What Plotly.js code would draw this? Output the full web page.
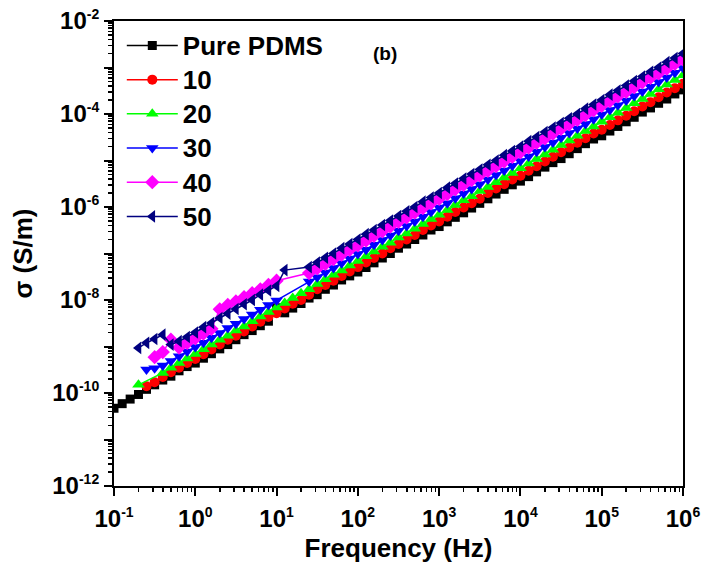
<!DOCTYPE html>
<html>
<head>
<meta charset="utf-8">
<script src="https://cdn.plot.ly/plotly-3.0.1.min.js"></script>
<style>
  html, body { margin: 0; padding: 0; background: #fff; }
  #chart { width: 702px; height: 565px; }
</style>
</head>
<body>
<div id="chart"></div>
<script>
// Frequency (Hz), ten points per decade
const freq = [
  0.1, 0.126, 0.158, 0.2, 0.251, 0.316, 0.398, 0.501, 0.631, 0.794,
  1, 1.26, 1.58, 2, 2.51, 3.16, 3.98, 5.01, 6.31, 7.94,
  10, 12.6, 15.8, 20, 25.1, 31.6, 39.8, 50.1, 63.1, 79.4,
  100, 126, 158, 200, 251, 316, 398, 501, 631, 794,
  1000, 1260, 1580, 2000, 2510, 3160, 3980, 5010, 6310, 7940,
  1e4, 1.26e4, 1.58e4, 2e4, 2.51e4, 3.16e4, 3.98e4, 5.01e4, 6.31e4, 7.94e4,
  1e5, 1.26e5, 1.58e5, 2e5, 2.51e5, 3.16e5, 3.98e5, 5.01e5, 6.31e5, 7.94e5,
  1e6
];

// Conductivity sigma (S/m)
const sigmaPure = [
  4.7e-11, 5.9e-11, 7.4e-11, 9.3e-11, 1.2e-10, 1.5e-10, 1.9e-10, 2.3e-10, 3.0e-10, 3.7e-10,
  4.4e-10, 5.6e-10, 7.0e-10, 8.9e-10, 1.1e-9, 1.4e-9, 1.8e-9, 2.2e-9, 2.8e-9, 3.5e-9,
  6.8e-9, 5.3e-9, 6.7e-9, 8.4e-9, 1.1e-8, 1.3e-8, 1.7e-8, 2.1e-8, 2.7e-8, 3.3e-8,
  4.0e-8, 5.0e-8, 6.3e-8, 8.0e-8, 1.0e-7, 1.3e-7, 1.6e-7, 2.0e-7, 2.5e-7, 3.2e-7,
  3.8e-7, 4.8e-7, 6.0e-7, 7.5e-7, 9.5e-7, 1.2e-6, 1.5e-6, 1.9e-6, 2.4e-6, 3.0e-6,
  3.6e-6, 4.5e-6, 5.7e-6, 7.2e-6, 9.0e-6, 1.1e-5, 1.4e-5, 1.8e-5, 2.3e-5, 2.9e-5,
  3.4e-5, 4.3e-5, 5.4e-5, 6.8e-5, 8.5e-5, 1.1e-4, 1.35e-4, 1.7e-4, 2.1e-4, 2.7e-4,
  3.3e-4
];
const sigma10 = [
  null, null, null, null, 1.4e-10, 1.7e-10, 2.2e-10, 2.8e-10, 3.5e-10, 4.4e-10,
  5.4e-10, 6.8e-10, 8.6e-10, 1.1e-9, 1.4e-9, 1.7e-9, 2.1e-9, 2.7e-9, 3.4e-9, 4.3e-9,
  5.2e-9, 6.6e-9, 8.3e-9, 1.0e-8, 1.3e-8, 1.7e-8, 2.1e-8, 2.6e-8, 3.3e-8, 4.1e-8,
  5.1e-8, 6.4e-8, 8.0e-8, 1.0e-7, 1.3e-7, 1.6e-7, 2.0e-7, 2.5e-7, 3.2e-7, 4.0e-7,
  4.9e-7, 6.2e-7, 7.8e-7, 9.8e-7, 1.2e-6, 1.5e-6, 2.0e-6, 2.5e-6, 3.1e-6, 3.9e-6,
  4.7e-6, 6.0e-6, 7.5e-6, 9.5e-6, 1.2e-5, 1.5e-5, 1.9e-5, 2.4e-5, 3.0e-5, 3.8e-5,
  4.6e-5, 5.8e-5, 7.3e-5, 9.2e-5, 1.15e-4, 1.45e-4, 1.8e-4, 2.3e-4, 2.9e-4, 3.6e-4,
  4.5e-4
];
const sigma20 = [
  null, null, null, 1.5e-10, null, null, 2.7e-10, 3.5e-10, 4.4e-10, 5.5e-10,
  6.9e-10, 8.7e-10, 1.1e-9, 1.4e-9, 1.7e-9, 2.2e-9, 2.7e-9, 3.5e-9, 4.4e-9, 5.5e-9,
  6.9e-9, 8.6e-9, 1.1e-8, 1.4e-8, 1.7e-8, 2.2e-8, 2.8e-8, 3.5e-8, 4.3e-8, 5.5e-8,
  6.9e-8, 8.7e-8, 1.1e-7, 1.4e-7, 1.7e-7, 2.2e-7, 2.7e-7, 3.4e-7, 4.3e-7, 5.5e-7,
  6.8e-7, 8.6e-7, 1.1e-6, 1.4e-6, 1.7e-6, 2.2e-6, 2.7e-6, 3.4e-6, 4.3e-6, 5.4e-6,
  6.8e-6, 8.6e-6, 1.08e-5, 1.35e-5, 1.7e-5, 2.15e-5, 2.7e-5, 3.4e-5, 4.3e-5, 5.4e-5,
  6.8e-5, 8.5e-5, 1.07e-4, 1.35e-4, 1.7e-4, 2.1e-4, 2.7e-4, 3.4e-4, 4.3e-4, 5.4e-4,
  6.8e-4
];
const sigma30 = [
  null, null, null, null, 3.2e-10, 3.4e-10, 3.9e-10, 4.9e-10, 6.2e-10, 7.8e-10,
  9.8e-10, 1.2e-9, 1.55e-9, 1.95e-9, 2.5e-9, 3.1e-9, 3.9e-9, 4.9e-9, 6.2e-9, 7.8e-9,
  9.8e-9, null, null, null, 2.5e-8, 3.1e-8, 3.9e-8, 4.9e-8, 6.2e-8, 7.8e-8,
  9.8e-8, 1.2e-7, 1.55e-7, 1.95e-7, 2.45e-7, 3.1e-7, 3.9e-7, 4.9e-7, 6.2e-7, 7.8e-7,
  9.8e-7, 1.2e-6, 1.55e-6, 1.95e-6, 2.45e-6, 3.1e-6, 3.9e-6, 4.9e-6, 6.1e-6, 7.7e-6,
  9.7e-6, 1.22e-5, 1.54e-5, 1.94e-5, 2.45e-5, 3.1e-5, 3.9e-5, 4.9e-5, 6.1e-5, 7.7e-5,
  9.7e-5, 1.22e-4, 1.54e-4, 1.94e-4, 2.45e-4, 3.05e-4, 3.85e-4, 4.85e-4, 6.1e-4, 7.7e-4,
  9.7e-4
];
const sigma40 = [
  null, null, null, null, null, 5.9e-10, 7.6e-10, 1.4e-9, 9.5e-10, 1.2e-9,
  1.5e-9, 1.9e-9, 2.4e-9, 6.3e-9, 7.8e-9, 9.3e-9, 1.15e-8, 1.4e-8, 1.7e-8, 2.1e-8,
  2.6e-8, null, null, null, 3.8e-8, 4.8e-8, 6.0e-8, 7.6e-8, 9.5e-8, 1.2e-7,
  1.5e-7, 1.9e-7, 2.4e-7, 3.0e-7, 3.8e-7, 4.8e-7, 6.0e-7, 7.6e-7, 9.5e-7, 1.2e-6,
  1.5e-6, 1.9e-6, 2.4e-6, 3.0e-6, 3.8e-6, 4.8e-6, 6.0e-6, 7.6e-6, 9.5e-6, 1.2e-5,
  1.5e-5, 1.9e-5, 2.4e-5, 3.0e-5, 3.8e-5, 4.8e-5, 6.0e-5, 7.5e-5, 9.5e-5, 1.2e-4,
  1.5e-4, 1.9e-4, 2.4e-4, 3.0e-4, 3.8e-4, 4.8e-4, 6.0e-4, 7.5e-4, 9.5e-4, 1.2e-3,
  1.5e-3
];
const sigma50 = [
  null, null, null, 9.3e-10, 1.2e-9, 1.45e-9, 1.8e-9, 1.1e-9, 1.3e-9, 1.6e-9,
  2.0e-9, 2.6e-9, 3.2e-9, 4.1e-9, 5.1e-9, 6.4e-9, 8.1e-9, 1.0e-8, 1.3e-8, 1.6e-8,
  2.0e-8, 4.4e-8, null, null, 5.1e-8, 6.4e-8, 8.1e-8, 1.0e-7, 1.3e-7, 1.6e-7,
  2.0e-7, 2.6e-7, 3.2e-7, 4.1e-7, 5.1e-7, 6.4e-7, 8.1e-7, 1.0e-6, 1.3e-6, 1.6e-6,
  2.0e-6, 2.6e-6, 3.2e-6, 4.1e-6, 5.1e-6, 6.4e-6, 8.1e-6, 1.0e-5, 1.3e-5, 1.6e-5,
  2.0e-5, 2.6e-5, 3.2e-5, 4.1e-5, 5.1e-5, 6.4e-5, 8.1e-5, 1.0e-4, 1.3e-4, 1.6e-4,
  2.0e-4, 2.6e-4, 3.2e-4, 4.1e-4, 5.1e-4, 6.4e-4, 8.1e-4, 1.0e-3, 1.3e-3, 1.6e-3,
  2.0e-3
];

const seriesNames = ['Pure PDMS', '10', '20', '30', '40', '50'];
const seriesColors = ['#000000', '#ff0000', '#00ff00', '#0000ff', '#ff00ff', '#000080'];
const seriesSymbols = ['square', 'circle', 'triangle-up', 'triangle-down', 'diamond', 'triangle-left'];
const seriesSizes = [9, 10, 11, 11, 11, 11];
const seriesData = [sigmaPure, sigma10, sigma20, sigma30, sigma40, sigma50];

// Axis ticks and labels (base 10, exponent shown as superscript)
const xTickVals = [0.1, 1, 10, 100, 1e3, 1e4, 1e5, 1e6];
const xTickExp = ['-1', '0', '1', '2', '3', '4', '5', '6'];
const yTickVals = [1e-12, 1e-11, 1e-10, 1e-9, 1e-8, 1e-7, 1e-6, 1e-5, 1e-4, 1e-3, 1e-2];
const yTickExp = ['-12', '', '-10', '', '-8', '', '-6', '', '-4', '', '-2'];

function powLabel(e) {
  return e === '' ? '' : '10<sup><span style="font-size:14px">' + e + '</span></sup>';
}

function minorTicks(lo, hi) {
  const out = [];
  for (let e = lo; e < hi; e++) {
    for (let d = 2; d <= 9; d++) out.push(d * Math.pow(10, e));
  }
  return out;
}

const FONT = 'Liberation Sans, Arial, Helvetica, sans-serif';

const traces = seriesData.map((ys, i) => ({
  type: 'scatter',
  mode: 'lines+markers',
  name: '<span style="font-size:26px">' + seriesNames[i] + '</span>',
  x: freq,
  y: ys,
  connectgaps: true,
  line: { color: seriesColors[i], width: 1.5 },
  marker: { symbol: seriesSymbols[i], size: seriesSizes[i], color: seriesColors[i], line: { width: 0 } }
}));

const axisCommon = {
  type: 'log',
  showgrid: false,
  zeroline: false,
  showline: true,
  linecolor: '#000',
  linewidth: 2,
  mirror: true,
  ticks: 'outside',
  ticklen: 8,
  tickwidth: 2,
  tickcolor: '#000',
  tickmode: 'array',
  tickfont: { family: FONT, size: 24, color: '#000', weight: 'bold' },
  automargin: false
};

const layout = {
  width: 702,
  height: 565,
  margin: { l: 114, r: 19, t: 21, b: 79 },
  paper_bgcolor: '#fff',
  plot_bgcolor: '#fff',
  showlegend: true,
  legend: {
    x: 0.0137, y: 0.995, xanchor: 'left', yanchor: 'top',
    bgcolor: 'rgba(0,0,0,0)',
    borderwidth: 0,
    itemwidth: 51,
    tracegroupgap: 0,
    font: { family: FONT, size: 24, color: '#000', weight: 'bold' }
  },
  xaxis: Object.assign({}, axisCommon, {
    range: [-1, 6],
    tickvals: xTickVals,
    ticktext: xTickExp.map(powLabel),
    ticklabelstandoff: 2,
    minor: { tickmode: 'array', tickvals: minorTicks(-1, 6), ticks: 'outside', ticklen: 4, tickwidth: 1.5, tickcolor: '#000' },
    title: { text: 'Frequency (Hz)', font: { family: FONT, size: 26, color: '#000', weight: 'bold' }, standoff: 8 }
  }),
  yaxis: Object.assign({}, axisCommon, {
    range: [-12, -2],
    tickvals: yTickVals,
    ticktext: yTickExp.map(powLabel),
    ticklabelstandoff: 0,
    minor: { tickmode: 'array', tickvals: minorTicks(-12, -2), ticks: 'outside', ticklen: 4, tickwidth: 1.5, tickcolor: '#000' },
    title: { text: 'σ (S/m)', font: { family: FONT, size: 26, color: '#000', weight: 'bold' }, standoff: 12 }
  }),
  annotations: [{
    text: '(b)', xref: 'paper', yref: 'paper', x: 0.476, y: 0.957,
    showarrow: false, font: { family: FONT, size: 19, color: '#000', weight: 'bold' }
  }]
};

Plotly.newPlot('chart', traces, layout, { staticPlot: true, displayModeBar: false });
</script>
</body>
</html>
